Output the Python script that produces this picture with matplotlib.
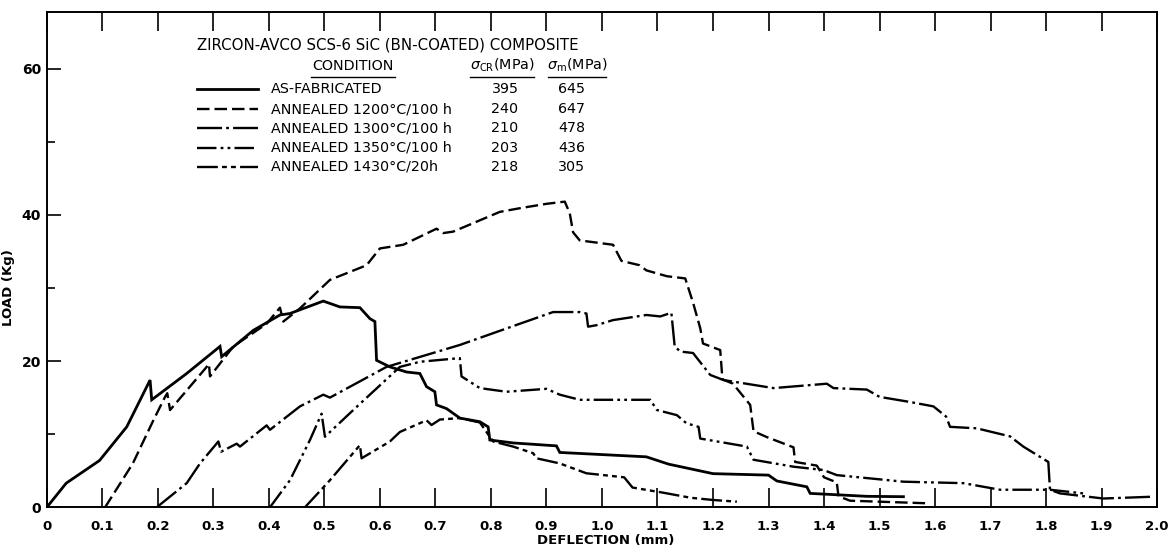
import matplotlib
matplotlib.use("Agg")
import matplotlib.pyplot as plt
from matplotlib.lines import Line2D

plt.rcParams['font.family'] = ['DejaVu Sans']
plt.rcParams['mathtext.fontset'] = 'dejavusans'
plt.rcParams['lines.scale_dashes'] = False

# load vs deflection, one pair of lists per specimen
defl_asfab = [0.0, 0.035, 0.095, 0.144, 0.186, 0.189, 0.252, 0.312, 0.315, 0.372, 0.42,
              0.438, 0.498, 0.528, 0.564, 0.582, 0.591, 0.594, 0.618, 0.648, 0.672,
              0.684, 0.699, 0.702, 0.72, 0.744, 0.78, 0.795, 0.798, 0.84, 0.918,
              0.924, 1.08, 1.12, 1.2, 1.30, 1.315, 1.369, 1.375, 1.477, 1.543]
load_asfab = [0.0, 3.3, 6.4, 11.0, 17.4, 14.7, 18.3, 22.0, 20.6, 24.2, 26.3,
              26.5, 28.2, 27.4, 27.3, 25.8, 25.4, 20.1, 19.2, 18.5, 18.3,
              16.5, 15.8, 14.0, 13.5, 12.2, 11.7, 11.0, 9.2, 8.8, 8.4,
              7.5, 6.9, 5.9, 4.6, 4.4, 3.6, 2.8, 1.9, 1.5, 1.45]

defl_1200 = [0.105, 0.155, 0.192, 0.213, 0.217, 0.222, 0.288, 0.292, 0.294, 0.336,
             0.396, 0.42, 0.426, 0.456, 0.51, 0.576, 0.60, 0.642, 0.702, 0.714,
             0.732, 0.816, 0.852, 0.90, 0.933, 0.942, 0.948, 0.96, 1.02, 1.035,
             1.068, 1.08, 1.117, 1.15, 1.164, 1.177, 1.182, 1.213, 1.217, 1.236,
             1.267, 1.273, 1.297, 1.345, 1.348, 1.387, 1.40, 1.423, 1.426, 1.447, 1.585]
load_1200 = [0.0, 6.0, 11.9, 15.1, 15.6, 13.3, 19.2, 19.6, 17.9, 22.0,
             25.1, 27.3, 25.4, 27.2, 31.1, 33.1, 35.4, 35.9, 38.1, 37.5,
             37.7, 40.4, 40.9, 41.5, 41.8, 40.2, 37.6, 36.5, 35.9, 33.7,
             33.1, 32.4, 31.6, 31.3, 28.0, 24.5, 22.4, 21.5, 17.5, 16.9,
             14.0, 10.4, 9.6, 8.2, 6.2, 5.7, 4.1, 3.4, 1.5, 0.9, 0.55]

defl_1300 = [0.198, 0.252, 0.276, 0.309, 0.314, 0.342, 0.348, 0.396, 0.402, 0.456,
             0.498, 0.51, 0.612, 0.744, 0.852, 0.912, 0.96, 0.972, 0.975, 0.99,
             1.02, 1.08, 1.105, 1.125, 1.131, 1.141, 1.164, 1.195, 1.219, 1.309,
             1.405, 1.417, 1.477, 1.50, 1.555, 1.597, 1.62, 1.627, 1.675, 1.735,
             1.759, 1.804, 1.807, 1.825, 1.903, 1.993]
load_1300 = [0.0, 3.3, 6.0, 9.0, 7.6, 8.7, 8.3, 11.2, 10.6, 13.8,
             15.4, 15.0, 19.2, 22.2, 25.1, 26.7, 26.7, 26.5, 24.7, 24.9,
             25.6, 26.3, 26.1, 26.6, 22.0, 21.3, 21.1, 18.1, 17.4, 16.3,
             16.9, 16.3, 16.1, 15.1, 14.4, 13.8, 12.4, 11.0, 10.8, 9.7,
             8.3, 6.2, 2.4, 1.9, 1.2, 1.45]

defl_1350 = [0.402, 0.438, 0.474, 0.495, 0.501, 0.552, 0.636, 0.672, 0.744, 0.747,
             0.78, 0.828, 0.90, 0.924, 0.96, 1.087, 1.099, 1.135, 1.152, 1.174,
             1.177, 1.261, 1.273, 1.345, 1.399, 1.423, 1.543, 1.651, 1.717, 1.807, 1.867]
load_1350 = [0.0, 3.7, 9.2, 12.8, 9.65, 13.3, 19.2, 19.9, 20.4, 17.9,
             16.3, 15.8, 16.2, 15.4, 14.7, 14.7, 13.3, 12.6, 11.5, 11.0,
             9.4, 8.3, 6.5, 5.55, 5.1, 4.4, 3.5, 3.3, 2.4, 2.4, 1.9]

defl_1430 = [0.465, 0.51, 0.564, 0.567, 0.618, 0.636, 0.684, 0.693, 0.708, 0.744,
             0.78, 0.804, 0.84, 0.876, 0.882, 0.924, 0.972, 1.04, 1.055, 1.11,
             1.16, 1.2, 1.243]
load_1430 = [0.0, 3.7, 8.5, 6.7, 9.0, 10.3, 11.9, 11.25, 12.0, 12.2,
             11.6, 9.0, 8.3, 7.4, 6.7, 6.0, 4.65, 4.1, 2.7, 2.0,
             1.3, 1.0, 0.77]

conditions = ['AS-FABRICATED', 'ANNEALED 1200°C/100 h', 'ANNEALED 1300°C/100 h',
              'ANNEALED 1350°C/100 h', 'ANNEALED 1430°C/20h']
sigma_cr = [395, 240, 210, 203, 218]
sigma_m = [645, 647, 478, 436, 305]

x_ticks = [round(0.1 * i, 1) for i in range(21)]
x_labels = ['0'] + ['%.1f' % v for v in x_ticks[1:]]

styles = [
    dict(ls='-', lw=2.0),
    dict(ls=(0, (9, 3.6)), lw=1.7),
    dict(ls=(0, (18, 3, 2, 3)), lw=1.7),
    dict(ls=(0, (14, 3, 2, 3, 2, 3)), lw=1.7),
    dict(ls=(0, (15, 3, 3.5, 3, 3.5, 3)), lw=1.7),
]
series = [(defl_asfab, load_asfab), (defl_1200, load_1200), (defl_1300, load_1300),
          (defl_1350, load_1350), (defl_1430, load_1430)]

fig = plt.figure(figsize=(11.7, 5.47), dpi=100)
ax = fig.add_axes([0.040, 0.0726, 0.949, 0.905])

for (x, y), st in zip(series, styles):
    ax.plot(x, y, color='black', solid_joinstyle='miter', **st)

ax.set_xlim(0, 2.0)
ax.set_ylim(0, 67.7)
ax.set_xticks(x_ticks)
ax.set_xticklabels(x_labels, fontsize=9.5, fontweight='bold')
ax.set_yticks([0, 20, 40, 60])
ax.set_yticklabels(['0', '20', '40', '60'], fontsize=10, fontweight='bold')
ax.set_yticks([10, 30, 50], minor=True)
ax.tick_params(axis='x', direction='in', length=14, width=1.2, top=True, pad=9)
ax.tick_params(axis='y', which='major', direction='in', length=10, width=1.2, pad=4)
ax.tick_params(axis='y', which='minor', direction='in', length=6, width=1.2)
for sp in ax.spines.values():
    sp.set_linewidth(1.4)

ax.set_xlabel('DEFLECTION (mm)', fontsize=9.5, fontweight='bold')
ax.xaxis.set_label_coords(0.5035, -0.053)
ax.set_ylabel('LOAD (Kg)', fontsize=9.5, fontweight='bold')
ax.yaxis.set_label_coords(-0.029, 0.443)

# legend table in the upper left
fs = 10.3
tf = ax.transAxes
ax.text(0.135, 0.934, 'ZIRCON-AVCO SCS-6 SiC (BN-COATED) COMPOSITE', transform=tf,
        fontsize=10.8, va='center', ha='left')
ax.text(0.276, 0.892, 'CONDITION', transform=tf, fontsize=fs, va='center', ha='center')
ax.text(0.410, 0.892, r'$\sigma_{\mathrm{CR}}$(MPa)', transform=tf, fontsize=fs,
        va='center', ha='center')
ax.text(0.4775, 0.892, r'$\sigma_{\mathrm{m}}$(MPa)', transform=tf, fontsize=fs,
        va='center', ha='center')
for x0, x1 in [(0.238, 0.314), (0.381, 0.439), (0.451, 0.504)]:
    ax.add_line(Line2D([x0, x1], [0.869, 0.869], transform=tf, color='black', lw=1.0))

rows_y = [0.8444, 0.804, 0.7653, 0.7261, 0.6877]
for cond, scr, sm, st, yy in zip(conditions, sigma_cr, sigma_m, styles, rows_y):
    ax.add_line(Line2D([0.135, 0.190], [yy, yy], transform=tf, color='black', **st))
    ax.text(0.2015, yy, cond, transform=tf, fontsize=fs, va='center', ha='left')
    ax.text(0.4126, yy, str(scr), transform=tf, fontsize=fs, va='center', ha='center')
    ax.text(0.4725, yy, str(sm), transform=tf, fontsize=fs, va='center', ha='center')

fig.savefig('out.png', dpi=100)
